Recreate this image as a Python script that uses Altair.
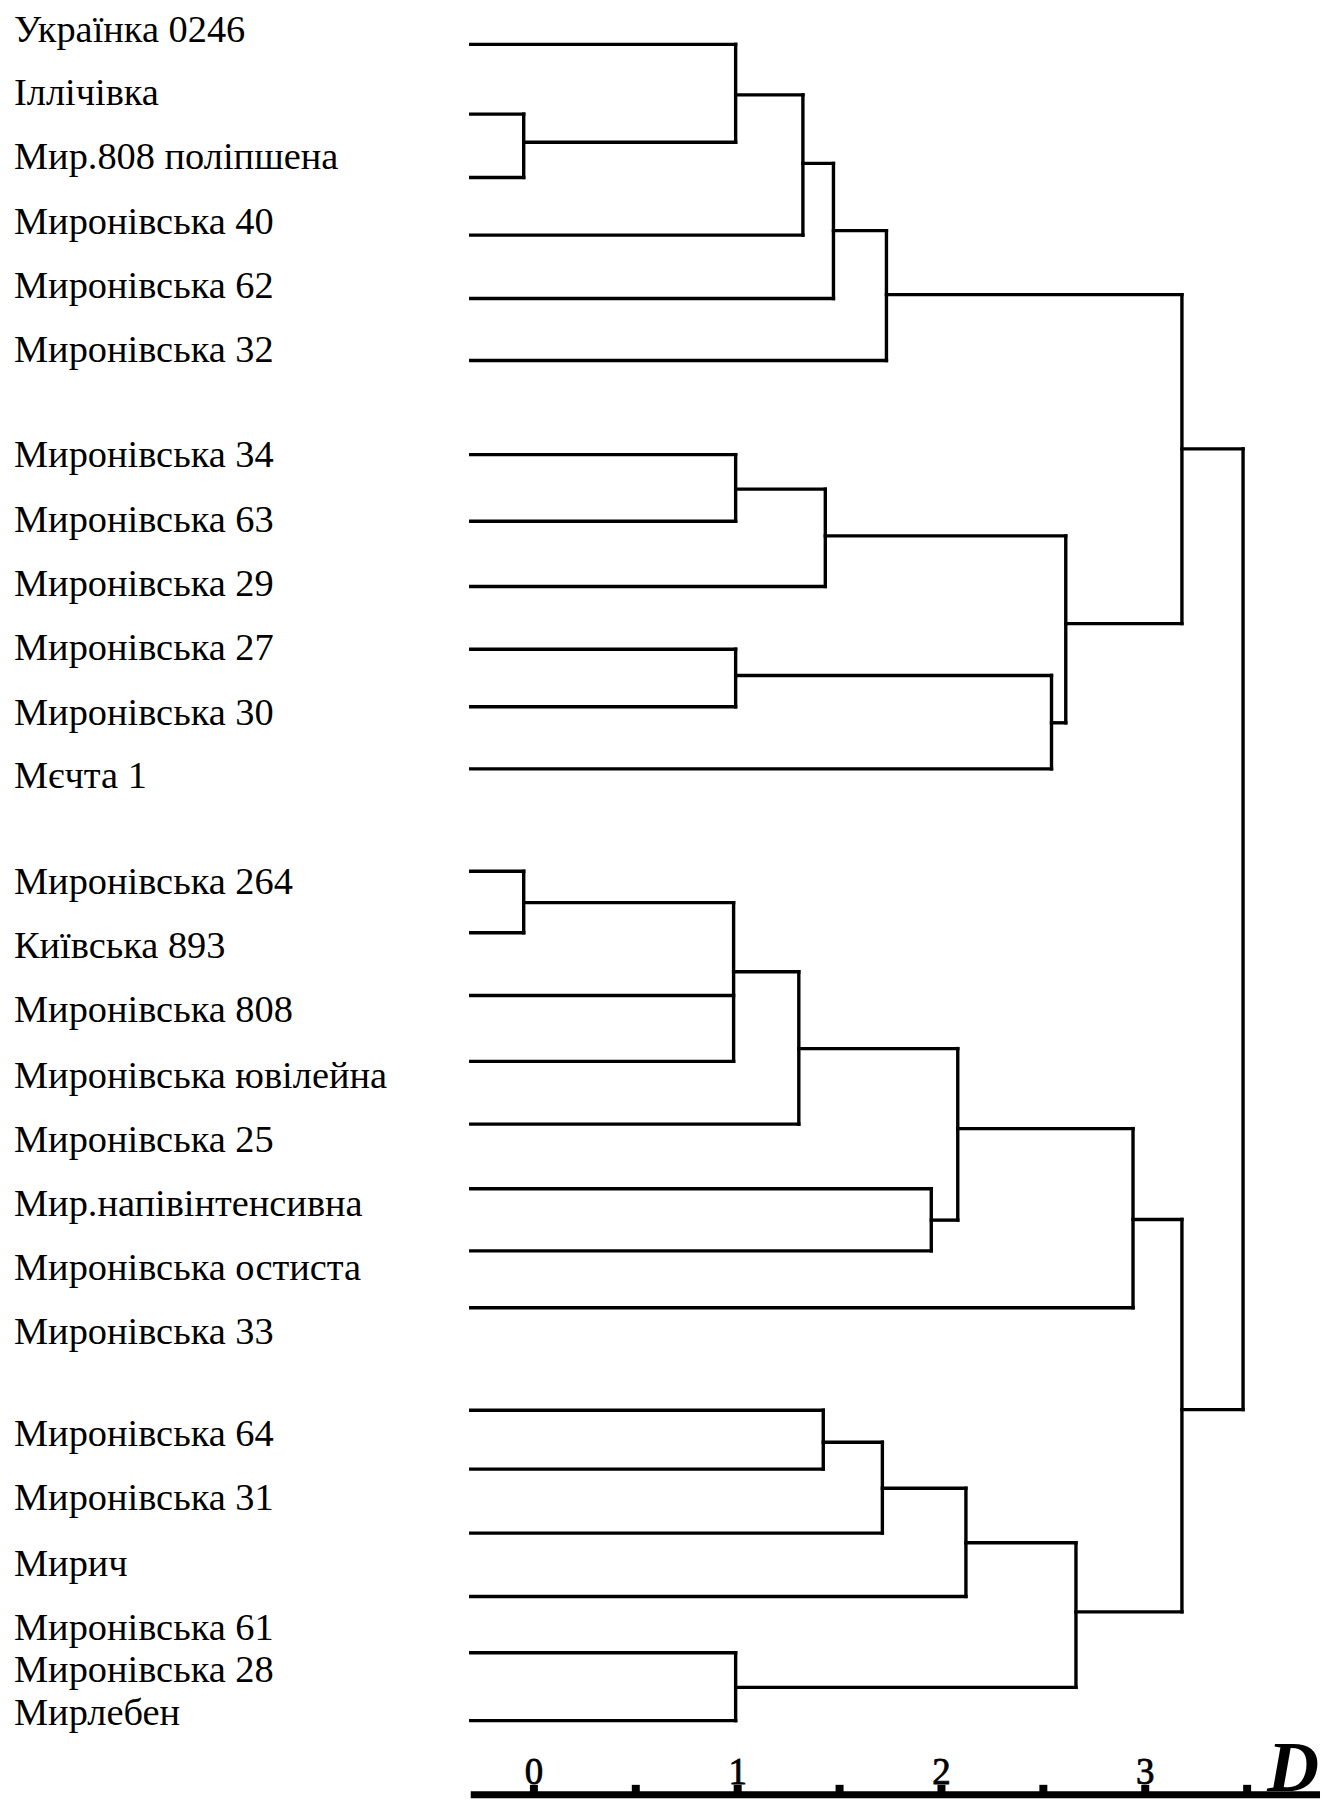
import altair as alt
import pandas as pd

# ---------------- data ----------------
labels = [
    "Українка 0246", "Іллічівка", "Мир.808 поліпшена", "Миронівська 40",
    "Миронівська 62", "Миронівська 32",
    "Миронівська 34", "Миронівська 63", "Миронівська 29", "Миронівська 27",
    "Миронівська 30", "Мєчта 1",
    "Миронівська 264", "Київська 893", "Миронівська 808", "Миронівська ювілейна",
    "Миронівська 25", "Мир.напівінтенсивна", "Миронівська остиста", "Миронівська 33",
    "Миронівська 64", "Миронівська 31", "Мирич", "Миронівська 61",
    "Миронівська 28", "Мирлебен",
]
# row position of each label (text line units)
label_row = [-0.05, 0.93, 1.92, 2.95, 3.95, 4.95,
             6.59, 7.60, 8.60, 9.60, 10.61, 11.60,
             13.25, 14.25, 15.26, 16.28, 17.28, 18.28, 19.29, 20.28,
             21.88, 22.88, 23.91, 24.91, 25.57, 26.24]
# row position of each leaf line of the dendrogram
leaf_row = [-0.02, 1.07, 2.06, 2.96, 3.95, 4.92,
            6.39, 7.43, 8.45, 9.43, 10.33, 11.30,
            12.90, 13.86, 14.84, 15.87, 16.85, 17.86, 18.83, 19.72,
            21.32, 22.24, 23.24, 24.23, 25.11, 26.17]
leaf_start = -0.31

# merges: children, joining distance D, row of the outgoing branch
node_children = [
    ["L1", "L2"], ["L0", "N0"], ["N1", "L3"], ["N2", "L4"], ["N3", "L5"],
    ["L6", "L7"], ["N5", "L8"], ["L9", "L10"], ["N7", "L11"], ["N6", "N8"],
    ["N4", "N9"],
    ["L12", "L13"], ["N11", "L14", "L15"], ["N12", "L16"], ["L17", "L18"],
    ["N13", "N14"], ["N15", "L19"],
    ["L20", "L21"], ["N17", "L22"], ["N18", "L23"], ["L24", "L25"], ["N19", "N20"],
    ["N16", "N21"],
    ["N10", "N22"],
]
node_height = [-0.05, 0.99, 1.32, 1.47, 1.73,
               0.99, 1.43, 0.99, 2.54, 2.61,
               3.18,
               -0.05, 0.98, 1.30, 1.95, 2.08, 2.94,
               1.42, 1.71, 2.12, 0.99, 2.66,
               3.18,
               3.48]
node_row = [1.51, 0.77, 1.84, 2.89, 3.89,
            6.93, 7.66, 9.84, 10.58, 9.03,
            6.30,
            13.39, 14.47, 15.67, 18.35, 16.92, 18.34,
            21.82, 22.54, 23.39, 25.65, 24.47,
            21.31,
            None]

tick_values = [0, 0.5, 1, 1.5, 2, 2.5, 3, 3.5]
tick_labels = ["0", "", "1", "", "2", "", "3", ""]
axis_title = "D"

# ---------------- layout constants ----------------
W, H = 1316, 1790
PX0, PXU = 535.5, 204.4      # page x of D=0, px per unit D
PY0, PYU = 40.0, 64.2        # page y of row 0, px per row
M = 8
xdom = [(M - PX0) / PXU, (M + W - PX0) / PXU]
ydom = [(M - PY0) / PYU, (M + H - PY0) / PYU]
xs = alt.Scale(domain=xdom, nice=False, zero=False)
ys = alt.Scale(domain=ydom, nice=False, zero=False, reverse=True)
AXIS_Y = 1794.5              # page y of the axis bar centre
axis_row = (AXIS_Y - PY0) / PYU

# ---------------- build segments ----------------
pos = {}
for i, r in enumerate(leaf_row):
    pos[f"L{i}"] = (leaf_start, r)
for j, (h, r) in enumerate(zip(node_height, node_row)):
    pos[f"N{j}"] = (h, r)

segs = []
for j, ch in enumerate(node_children):
    h = node_height[j]
    rows = [pos[c][1] for c in ch]
    segs.append(dict(x=h, x2=h, y=min(rows), y2=max(rows)))
    for c in ch:
        cx, cy = pos[c]
        segs.append(dict(x=cx, x2=h, y=cy, y2=cy))
seg_df = pd.DataFrame(segs)

lab_df = pd.DataFrame({"label": labels, "row": label_row})
tick_df = pd.DataFrame({"t": tick_values, "lab": tick_labels})
axis_df = pd.DataFrame({"x": [leaf_start], "x2": [xdom[1]], "y": [axis_row]})

tree = alt.Chart(seg_df).mark_rule(color="black", strokeWidth=3.4, strokeCap="square").encode(
    x=alt.X("x:Q", scale=xs, axis=None),
    x2="x2:Q",
    y=alt.Y("y:Q", scale=ys, axis=None),
    y2="y2:Q",
)

text = alt.Chart(lab_df).mark_text(
    align="left", baseline="alphabetic", font="Liberation Serif", fontSize=38.5, color="black"
).encode(
    x=alt.value(6),
    y=alt.Y("row:Q", scale=ys, axis=None),
    text="label:N",
)

axis_line = alt.Chart(axis_df).mark_rule(color="black", strokeWidth=7).encode(
    x=alt.X("x:Q", scale=xs, axis=None),
    x2="x2:Q",
    y=alt.Y("y:Q", scale=ys, axis=None),
)

ticks = alt.Chart(tick_df).mark_rule(color="black", strokeWidth=8).encode(
    x=alt.X("t:Q", scale=xs, axis=None),
    y=alt.value(AXIS_Y - 10 - M),
    y2=alt.value(AXIS_Y - M),
)

tick_text = alt.Chart(tick_df).mark_text(
    align="center", baseline="alphabetic", font="Liberation Sans Narrow",
    fontSize=37, color="black", strokeWidth=0.8, stroke="black"
).encode(
    x=alt.X("t:Q", scale=xs, axis=None),
    y=alt.value(AXIS_Y - 11 - M),
    text="lab:N",
)

title = alt.Chart(pd.DataFrame({"t": [axis_title]})).mark_text(
    align="center", baseline="alphabetic", font="Liberation Serif",
    fontWeight="bold", fontStyle="italic", fontSize=72, color="black"
).encode(
    x=alt.value(1297 - M),
    y=alt.value(AXIS_Y - 4 - M),
    text="t:N",
)

chart = alt.layer(tree, axis_line, ticks, tick_text, title, text).properties(
    width=W, height=H, padding=0
).configure_view(stroke=None)

chart.save("out.html", embed_options={"renderer": "svg", "actions": False})
